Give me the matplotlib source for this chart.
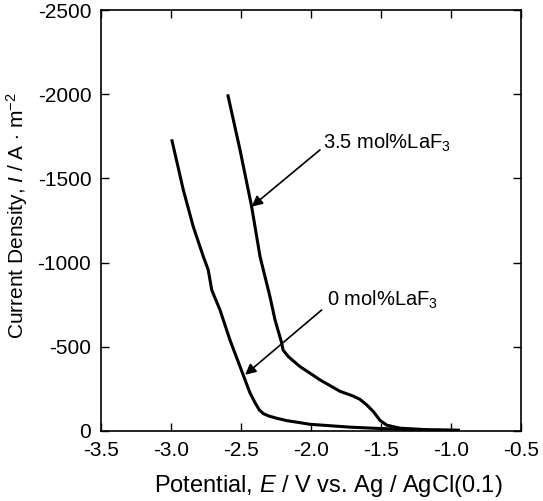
import numpy as np
import matplotlib.pyplot as plt

plt.rcParams['font.family'] = ['Liberation Sans', 'DejaVu Sans']
plt.rcParams['mathtext.fontset'] = 'custom'
plt.rcParams['mathtext.rm'] = 'Liberation Sans'
plt.rcParams['mathtext.it'] = 'Liberation Sans:italic'

# 0 mol% LaF3
e_0 = [-2.995, -2.912, -2.841, -2.769, -2.734, -2.709, -2.686, -2.65, -2.579,
       -2.507, -2.436, -2.40, -2.37, -2.34, -2.30, -2.25, -2.174, -2.007, -1.721,
       -1.507, -1.221, -0.936]
i_0 = [-1732, -1431, -1213, -1035, -956, -837, -790, -718, -540,
       -382, -226, -168, -125, -102, -88, -76, -61, -39, -22,
       -14, -6, -3]

# 3.5 mol% LaF3
e_35 = [-2.595, -2.507, -2.424, -2.364, -2.293, -2.257, -2.209, -2.20, -2.162,
        -2.079, -1.936, -1.793, -1.70, -1.65, -1.602, -1.555, -1.507, -1.459,
        -1.364, -1.15, -0.936]
i_35 = [-1999, -1669, -1332, -1035, -797, -659, -521, -481, -441,
        -382, -303, -235, -207, -187, -154, -115, -62, -34,
        -16, -6, -3]

fig = plt.figure(figsize=(5.43, 5.01), dpi=100)
ax = fig.add_axes([0.186, 0.14, 0.7735, 0.84])

ax.plot(e_0, i_0, color='black', lw=2.2, solid_capstyle='butt', solid_joinstyle='round')
ax.plot(e_35, i_35, color='black', lw=2.2, solid_capstyle='butt', solid_joinstyle='round')

ax.set_xlim(-3.5, -0.5)
ax.set_ylim(0, -2500)
ax.set_xticks(np.arange(-3.5, -0.49, 0.5))
ax.set_xticklabels(['-3.5', '-3.0', '-2.5', '-2.0', '-1.5', '-1.0', '-0.5'])
ax.set_yticks([0, -500, -1000, -1500, -2000, -2500])
ax.set_yticklabels(['0', '-500', '-1000', '-1500', '-2000', '-2500'])
ax.tick_params(direction='in', length=6, width=1, top=True, right=True,
               labelsize=15, pad=7)
for s in ax.spines.values():
    s.set_linewidth(1.2)

ax.set_xlabel(r'Potential, $\it{E}$ / V vs. Ag / AgCl(0.1)', fontsize=17)
ax.xaxis.set_label_coords(0.542, -0.13)
ax.xaxis.label.set_va('center')
ax.set_ylabel(r'Current Density, $\it{I}$ / A $\cdot$ m$^{-2}$', fontsize=15)
ax.yaxis.set_label_coords(-0.199, 0.512)
ax.yaxis.label.set_va('center')

arrow = dict(arrowstyle='-|>', color='black', lw=1.2, mutation_scale=16,
             shrinkA=0, shrinkB=0)
ax.annotate('', xy=(-2.424, -1332), xytext=(-1.936, -1669), arrowprops=arrow)
ax.text(-1.914, -1710, r'3.5 mol%LaF$_3$', fontsize=14.5, va='center', ha='left')
ax.annotate('', xy=(-2.471, -333), xytext=(-1.924, -718), arrowprops=arrow)
ax.text(-1.888, -778, r'0 mol%LaF$_3$', fontsize=14.5, va='center', ha='left')

fig.savefig('out.png', dpi=100)
